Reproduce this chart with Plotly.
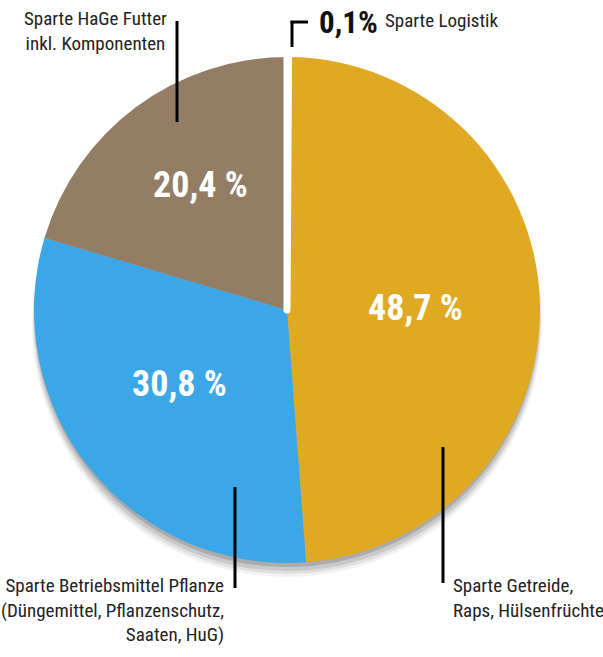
import plotly.graph_objects as go

categories = ["Sparte Getreide, Raps, Hülsenfrüchte",
              "Sparte Betriebsmittel Pflanze",
              "Sparte HaGe Futter inkl. Komponenten",
              "Sparte Logistik"]
values = [48.7, 30.8, 20.4, 0.1]
value_labels = ["48,7 %", "30,8 %", "20,4 %", "0,1%"]
colors = ["#E0A923", "#3BA7E7", "#937E65", "#FFFFFF"]

FONT = "Roboto Condensed, Roboto, sans-serif"
W, H = 603, 657
CX, CY, R = 287, 310, 253

def px(x, y):
    return x / W, 1 - y / H

fig = go.Figure()
fig.add_trace(go.Pie(
    labels=categories, values=values, sort=False, direction="clockwise",
    rotation=values[3] / sum(values) * 360,
    marker=dict(colors=colors, line=dict(color="white", width=[0, 0, 0, 7])),
    textinfo="none", hoverinfo="label+percent", showlegend=False,
    domain=dict(x=[(CX - R) / W, (CX + R) / W], y=[1 - (CY + R) / H, 1 - (CY - R) / H]),
))

shapes = []
# soft drop shadow under the pie
for dr, dy, op in [(2, 12, 0.05), (1, 10, 0.07), (0, 8, 0.10), (-1, 5, 0.15)]:
    shapes.append(dict(type="circle", xref="paper", yref="paper", layer="below",
                       x0=(CX - R - dr) / W, x1=(CX + R + dr) / W,
                       y0=1 - (CY + dy + R + dr) / H, y1=1 - (CY + dy - R - dr) / H,
                       fillcolor=f"rgba(0,0,0,{op})", line=dict(width=0)))

def vline(x, y0, y1):
    shapes.append(dict(type="line", xref="paper", yref="paper",
                       x0=x / W, x1=x / W, y0=1 - y0 / H, y1=1 - y1 / H,
                       line=dict(color="black", width=3)))
vline(177, 21, 122)
vline(235, 487, 588)
vline(443, 447, 583)
vline(292, 21, 47)
shapes.append(dict(type="line", xref="paper", yref="paper",
                   x0=290.5 / W, x1=308 / W, y0=1 - 22 / H, y1=1 - 22 / H,
                   line=dict(color="black", width=3)))

annotations = []
def txt(x, y, s, size, bold=False, color="#222", xanchor="center", align="center"):
    ax, ay = px(x, y)
    annotations.append(dict(x=ax, y=ay, xref="paper", yref="paper", text=s,
                            showarrow=False, xanchor=xanchor, yanchor="middle", align=align,
                            font=dict(family=FONT, size=size, color=color,
                                      weight="bold" if bold else "normal")))

txt(200, 185, value_labels[2], 36, True, "white")
txt(415, 308, value_labels[0], 36, True, "white")
txt(180, 384, value_labels[1], 36, True, "white")
txt(317, 22, value_labels[3], 31, True, "#111", xanchor="left")
txt(383, 20, "Sparte Logistik", 19, False, "#222", xanchor="left")
txt(95, 31, "Sparte HaGe Futter<br>inkl. Komponenten", 19)
txt(226, 610, "Sparte Betriebsmittel Pflanze<br>(Düngemittel, Pflanzenschutz,<br>Saaten, HuG)", 19,
    xanchor="right", align="right")
txt(451, 598, "Sparte Getreide,<br>Raps, Hülsenfrüchte", 19, xanchor="left", align="left")

fig.update_layout(width=W, height=H, margin=dict(l=0, r=0, t=0, b=0),
                  paper_bgcolor="white", plot_bgcolor="white",
                  shapes=shapes, annotations=annotations)
fig.write_html("out.html", config={"displayModeBar": False},
               post_script="document.body.style.margin='0';")
